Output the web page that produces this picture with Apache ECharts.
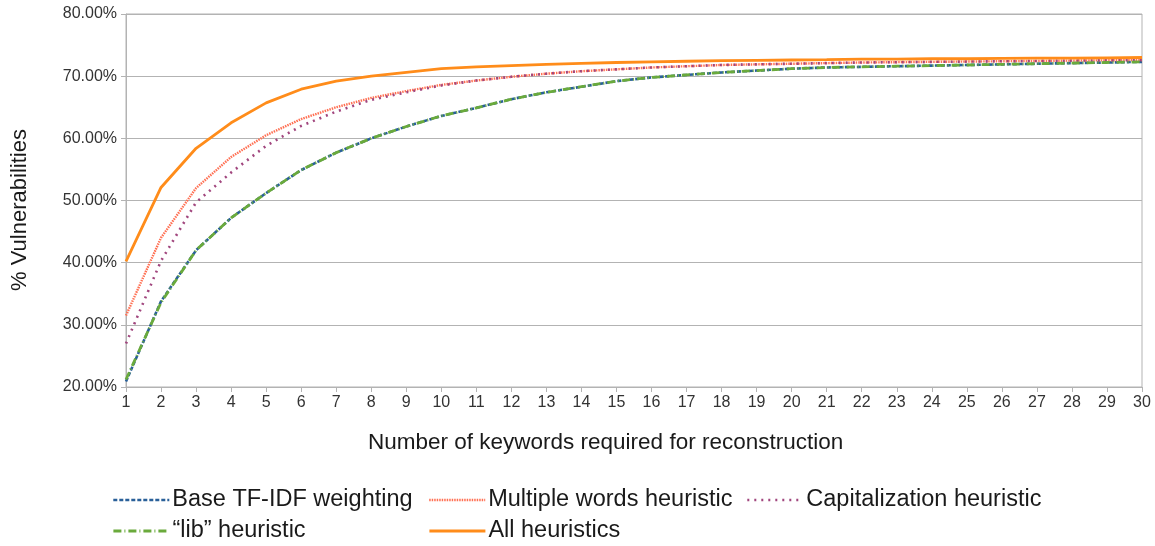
<!DOCTYPE html>
<html><head><meta charset="utf-8">
<script src="https://cdn.jsdelivr.net/npm/echarts@6/dist/echarts.min.js"></script>
<style>html,body{margin:0;padding:0;background:#fff}#c{width:1155px;height:546px}</style>
</head><body><div id="c"></div>
<script>
const categories = Array.from({length:30},(_,i)=>String(i+1));
const seriesNames = ['Base TF-IDF weighting','Multiple words heuristic','Capitalization heuristic','\u201clib\u201d heuristic','All heuristics'];
const baseTfidf = [20.9,33.8,42.0,47.2,51.2,54.9,57.7,60.0,61.9,63.6,64.9,66.3,67.4,68.3,69.2,69.8,70.2,70.6,70.9,71.2,71.4,71.5,71.6,71.7,71.8,71.9,72.0,72.1,72.2,72.3];
const multipleWords = [31.5,44.0,52.0,57.0,60.5,63.1,65.0,66.5,67.6,68.6,69.3,69.9,70.4,70.8,71.1,71.4,71.6,71.8,71.9,72.0,72.1,72.2,72.25,72.3,72.35,72.4,72.45,72.5,72.55,72.6];
const capitalization = [27.0,40.3,49.7,54.5,58.8,62.0,64.3,66.2,67.4,68.5,69.3,69.9,70.4,70.8,71.1,71.4,71.6,71.8,71.9,72.0,72.1,72.2,72.25,72.3,72.35,72.4,72.45,72.5,72.55,72.6];
const libHeuristic = [21.2,33.6,42.0,47.2,51.2,54.9,57.7,60.0,61.9,63.6,64.9,66.3,67.4,68.3,69.2,69.8,70.2,70.6,70.9,71.2,71.4,71.5,71.6,71.7,71.8,71.9,72.0,72.1,72.2,72.3];
const allHeuristics = [40.2,52.1,58.4,62.5,65.7,67.9,69.2,70.0,70.6,71.2,71.5,71.7,71.9,72.05,72.2,72.3,72.4,72.5,72.55,72.6,72.65,72.75,72.75,72.8,72.8,72.85,72.9,72.9,72.95,73.0];
const yTicks = [20,30,40,50,60,70,80];

const styles = [
  {color:'#2a6099', width:2.6, type:[4,2]},
  {color:'#ff6f52', width:2.4, type:[1.5,1]},
  {color:'#a1467e', width:2.6, type:[2,5]},
  {color:'#6aaa3c', width:2.8, type:[8,3,1,3]},
  {color:'#ff8c1a', width:2.8, type:'solid'}
];
const dataArr = [baseTfidf, multipleWords, capitalization, libHeuristic, allHeuristics];
const legendPos = [[112,488],[428,488],[746,488],[112,519],[428,519]];

const chart = echarts.init(document.getElementById('c'), null, {renderer:'canvas'});
chart.setOption({
  animation:false,
  grid:{left:126,right:13,top:14,bottom:159,show:true,borderColor:'#b3b3b3',borderWidth:1},
  xAxis:{type:'category',data:categories,boundaryGap:false,
    axisLine:{lineStyle:{color:'#b3b3b3'}},
    axisTick:{show:true,length:5,lineStyle:{color:'#b3b3b3'}},
    axisLabel:{color:'#333',fontSize:16,fontFamily:'Liberation Sans Narrow, Liberation Sans',margin:8,interval:0},
    splitLine:{show:false}},
  yAxis:{type:'value',min:yTicks[0],max:yTicks[yTicks.length-1],interval:10,
    axisLine:{show:true,lineStyle:{color:'#b3b3b3'}},
    axisTick:{show:true,length:5,lineStyle:{color:'#b3b3b3'}},
    axisLabel:{color:'#333',fontSize:16,fontFamily:'Liberation Sans',margin:9,formatter:v=>v.toFixed(2)+'%'},
    splitLine:{lineStyle:{color:'#b3b3b3',width:1}}},
  legend: seriesNames.map((n,i)=>({data:[n],left:legendPos[i][0],top:legendPos[i][1],itemWidth:56,itemHeight:14,itemGap:0,
    itemStyle:{opacity:0},
    lineStyle:{width:styles[i].width,type:styles[i].type,color:styles[i].color},
    textStyle:{fontSize:23.5,color:'#1a1a1a',fontFamily:'Liberation Sans',padding:[0,0,0,-2]},padding:0})),
  graphic:[
    {type:'text',left:368,top:431,style:{text:'Number of keywords required for reconstruction',fontSize:22.5,fill:'#1a1a1a',fontFamily:'Liberation Sans'}},
    {type:'text',x:20,y:210,rotation:Math.PI/2,style:{text:'% Vulnerabilities',fontSize:22,fill:'#1a1a1a',fontFamily:'Liberation Sans',align:'center',verticalAlign:'middle'}}
  ],
  series: seriesNames.map((n,i)=>({name:n,type:'line',data:dataArr[i],symbol:'none',smooth:false,
    lineStyle:{color:styles[i].color,width:styles[i].width,type:styles[i].type},
    itemStyle:{color:styles[i].color}}))
});
</script></body></html>
